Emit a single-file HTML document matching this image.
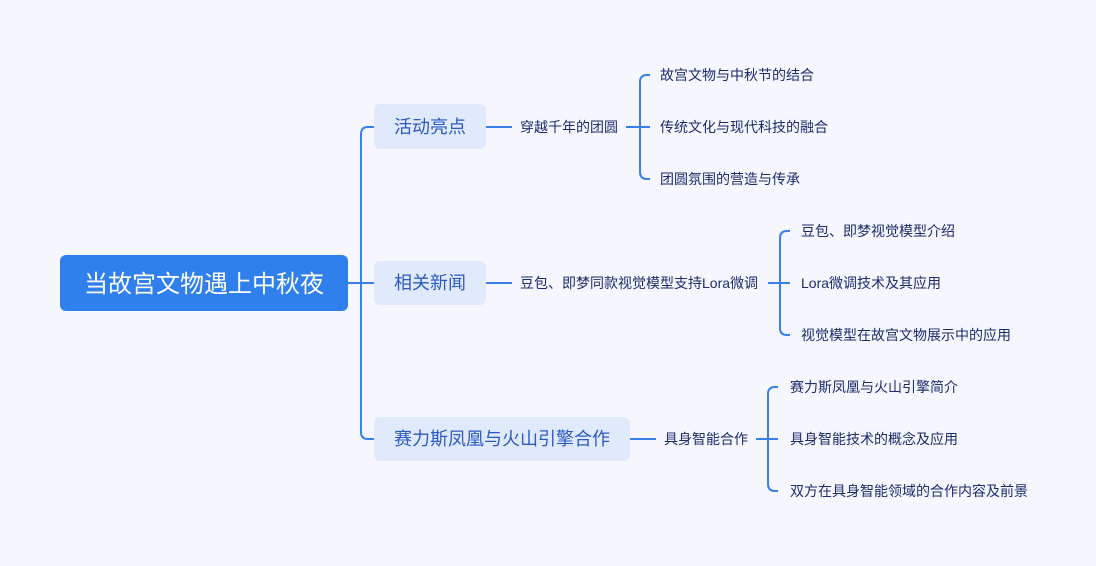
<!DOCTYPE html>
<html><head><meta charset="utf-8"><style>
html,body{margin:0;padding:0;background:#f5f6fe;}
svg{display:block}
text{font-family:"Liberation Sans","Noto Sans CJK SC",sans-serif;}
</style></head><body>
<svg width="1096" height="566" viewBox="0 0 1096 566" xmlns="http://www.w3.org/2000/svg">
<rect width="1096" height="566" fill="#f5f6fe"/>
<g fill="none" stroke="#3a80ec" stroke-width="2">
<path d="M348 283 H374"/>
<path d="M374 127 H368 Q361 127 361 134 V432 Q361 439 368 439 H374"/>
<path d="M486 127 H512"/>
<path d="M486 283 H512"/>
<path d="M630 439 H656"/>
<path d="M626 127 H640"/>
<path d="M650 75 H647 Q640 75 640 82 V172 Q640 179 647 179 H650"/>
<path d="M640 127 H650"/>
<path d="M768 283 H780"/>
<path d="M790 231 H787 Q780 231 780 238 V328 Q780 335 787 335 H790"/>
<path d="M780 283 H790"/>
<path d="M756 439 H768"/>
<path d="M778 387 H775 Q768 387 768 394 V484 Q768 491 775 491 H778"/>
<path d="M768 439 H778"/>
</g>
<rect x="60" y="255" width="288" height="56" rx="6" fill="#2f80ed"/>
<text x="204" y="292" font-size="24" fill="#fff" text-anchor="middle">当故宫文物遇上中秋夜</text>
<g fill="#e1e9fd">
<rect x="374" y="104" width="112" height="45" rx="6"/>
<rect x="374" y="261" width="112" height="44" rx="6"/>
<rect x="374" y="417" width="256" height="44" rx="6"/>
</g>
<g font-size="18" fill="#2a5bc0" text-anchor="middle">
<text x="430" y="133">活动亮点</text>
<text x="430" y="289">相关新闻</text>
<text x="502" y="445">赛力斯凤凰与火山引擎合作</text>
</g>
<g font-size="14" fill="#1c2b6b">
<text x="520" y="132">穿越千年的团圆</text>
<text x="520" y="288">豆包、即梦同款视觉模型支持Lora微调</text>
<text x="664" y="444">具身智能合作</text>
<text x="660" y="80">故宫文物与中秋节的结合</text>
<text x="660" y="132">传统文化与现代科技的融合</text>
<text x="660" y="184">团圆氛围的营造与传承</text>
<text x="801" y="236">豆包、即梦视觉模型介绍</text>
<text x="801" y="288">Lora微调技术及其应用</text>
<text x="801" y="340">视觉模型在故宫文物展示中的应用</text>
<text x="790" y="392">赛力斯凤凰与火山引擎简介</text>
<text x="790" y="444">具身智能技术的概念及应用</text>
<text x="790" y="496">双方在具身智能领域的合作内容及前景</text>
</g>
</svg>
</body></html>
